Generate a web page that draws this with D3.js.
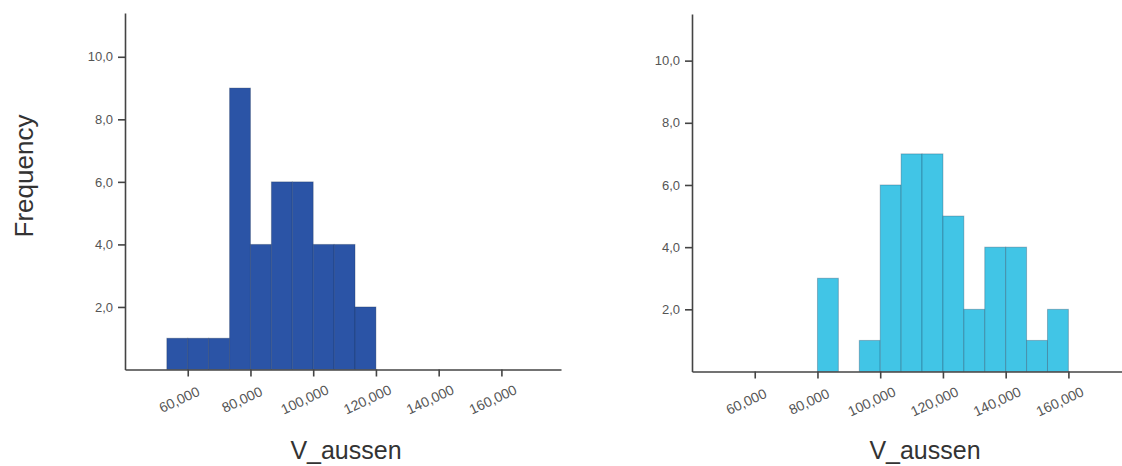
<!DOCTYPE html>
<html>
<head>
<meta charset="utf-8">
<script src="https://cdn.jsdelivr.net/npm/d3@7"></script>
<style>
  body { margin: 0; background: #fff; overflow: hidden; }
  svg { display: block; }
  svg text { font-family: "Liberation Sans", Arial, sans-serif; }
</style>
</head>
<body>
<div id="chart"></div>
<script>
// histogram bins (lower edges) and counts
var binWidth = 20000 / 3
var leftBins = [53333, 60000, 66667, 73333, 80000, 86667, 93333, 100000, 106667, 113333]
var leftCounts = [1, 1, 1, 9, 4, 6, 6, 4, 4, 2]
var rightBins = [80000, 86667, 93333, 100000, 106667, 113333, 120000, 126667, 133333, 140000, 146667, 153333]
var rightCounts = [3, 0, 1, 6, 7, 7, 5, 2, 4, 4, 1, 2]

var xTicks = [60000, 80000, 100000, 120000, 140000, 160000]
var yTicks = [2, 4, 6, 8, 10]
var xTitle = "V_aussen"
var yTitle = "Frequency"

var width = 1122, height = 466

var svg = d3.select("#chart")
    .append("svg")
    .attr("width", width)
    .attr("height", height)

// one entry per panel: layout + its data
var panels = [
    { bins: leftBins, counts: leftCounts, color: "#2b54a6", left: 125, zero: 369.5, top: 13, yMax: 11.4, titleX: 346 },
    { bins: rightBins, counts: rightCounts, color: "#41c5e6", left: 692, zero: 371.5, top: 14, yMax: 11.5, titleX: 925 }
]

var fmtX = d3.format(",")
var fmtY = function (d) { return d3.format(".1f")(d).replace(".", ",") }

panels.forEach(function (p) {
    var x = d3.scaleLinear()
        .domain([40000, 179000])
        .range([p.left, p.left + 436])
    var y = d3.scaleLinear()
        .domain([0, p.yMax])
        .range([p.zero, p.top])

    var g = svg.append("g")

    // bars
    var data = p.bins.map(function (b, i) { return { x0: b, x1: b + binWidth, n: p.counts[i] } })
        .filter(function (d) { return d.n > 0 })
    g.append("g")
        .selectAll("rect")
        .data(data)
        .enter()
        .append("rect")
        .attr("x", function (d) { return x(d.x0) })
        .attr("y", function (d) { return y(d.n) })
        .attr("width", function (d) { return x(d.x1) - x(d.x0) })
        .attr("height", function (d) { return y(0) - y(d.n) })
        .attr("fill", p.color)
        .attr("stroke", "rgba(20,40,70,0.28)")
        .attr("stroke-width", 1)

    // y axis
    var yAxis = g.append("g")
        .attr("transform", "translate(" + p.left + ",0)")
        .call(d3.axisLeft(y).tickValues(yTicks).tickFormat(fmtY).tickSize(7).tickSizeOuter(0).tickPadding(5))
    yAxis.select(".domain").attr("stroke", "#444").attr("stroke-width", 1.6)
    yAxis.selectAll(".tick line").attr("stroke", "#444").attr("stroke-width", 1.6)
    yAxis.selectAll(".tick text").attr("fill", "#555").style("font-size", "13px")

    // x axis
    var xAxis = g.append("g")
        .attr("transform", "translate(0," + p.zero + ")")
        .call(d3.axisBottom(x).tickValues(xTicks).tickFormat(fmtX).tickSize(7).tickSizeOuter(0))
    xAxis.select(".domain").attr("stroke", "#444").attr("stroke-width", 1.6)
    xAxis.selectAll(".tick line").attr("stroke", "#444").attr("stroke-width", 1.6)
    xAxis.selectAll(".tick text")
        .attr("x", 0).attr("y", 0).attr("dy", ".35em")
        .attr("text-anchor", "middle")
        .attr("transform", "translate(-9,30) rotate(-25)")
        .attr("fill", "#555")
        .style("font-size", "14px")

    // x title
    g.append("text")
        .attr("x", p.titleX)
        .attr("y", 459)
        .attr("text-anchor", "middle")
        .attr("fill", "#333")
        .style("font-size", "25px")
        .text(xTitle)
})

// y title (left panel only)
svg.append("text")
    .attr("transform", "translate(33,176) rotate(-90)")
    .attr("text-anchor", "middle")
    .attr("fill", "#333")
    .style("font-size", "26px")
    .text(yTitle)
</script>
</body>
</html>
